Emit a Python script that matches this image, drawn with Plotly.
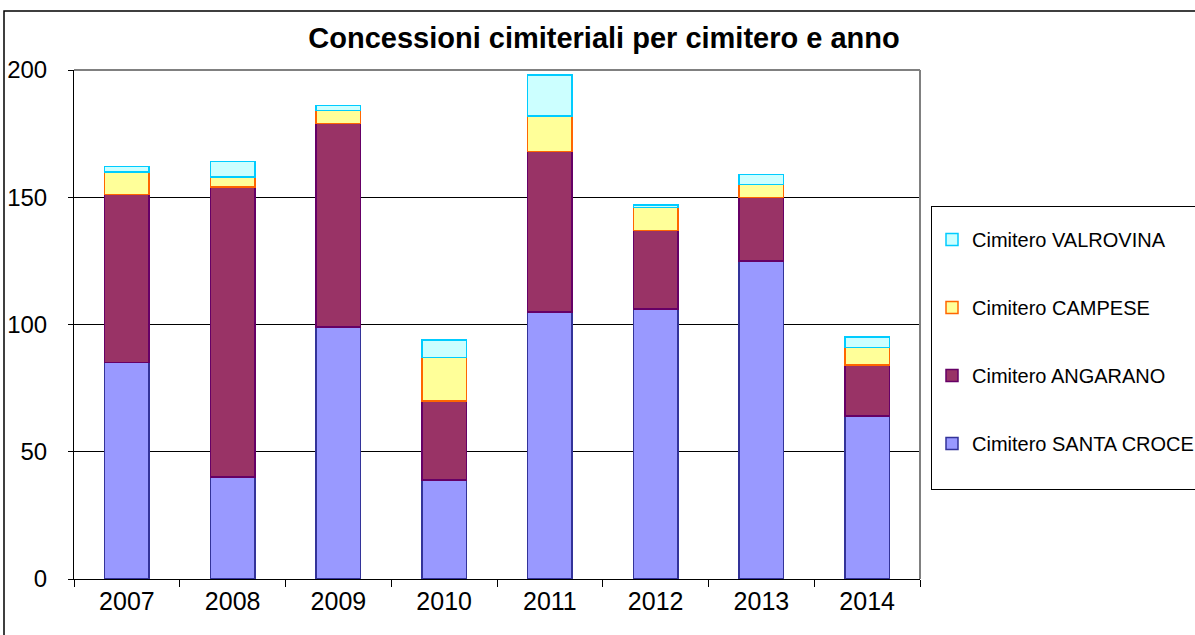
import plotly.graph_objects as go

years = ["2007", "2008", "2009", "2010", "2011", "2012", "2013", "2014"]
santa_croce = [85, 40, 99, 39, 105, 106, 125, 64]
angarano = [66, 114, 80, 31, 63, 31, 25, 20]
campese = [9, 4, 5, 17, 14, 9, 5, 7]
valrovina = [2, 6, 2, 7, 16, 1, 4, 4]

series = [
    ("Cimitero SANTA CROCE<br> ", santa_croce, "#9999FF", "#333399"),
    ("Cimitero ANGARANO", angarano, "#993366", "#660066"),
    ("Cimitero CAMPESE", campese, "#FFFF99", "#FF6600"),
    ("Cimitero VALROVINA", valrovina, "#CCFFFF", "#00CCFF"),
]

FONT = "Liberation Sans, Arial, sans-serif"
W, H = 1195, 635
L, R, T, B = 74, 920, 70, 579  # plot area in pixels


def px(x):
    return (x - L) / (R - L)


def py(y):
    return (B - y) / (B - T)


fig = go.Figure()
for i, (name, vals, fill, line) in enumerate(series):
    fig.add_trace(go.Bar(
        x=years, y=vals, name=name, legendgroup=f"g{i}",
        legendrank=len(series) - i,
        marker=dict(color=fill, line=dict(color=line, width=1.5)),
        width=0.42,
    ))

fig.update_layout(
    width=W, height=H,
    margin=dict(l=L, r=W - R, t=T, b=H - B, autoexpand=False),
    barmode="stack",
    paper_bgcolor="white", plot_bgcolor="white",
    font=dict(family=FONT, color="black", size=24),
    title=dict(
        text="<b>Concessioni cimiteriali per cimitero e anno</b>",
        x=px(604), xref="paper", xanchor="center",
        y=1 - 38 / H, yref="container", yanchor="middle",
        font=dict(family=FONT, size=29, color="black"),
    ),
    showlegend=True,
    legend=dict(
        x=px(931), xanchor="left", y=py(206), yanchor="top",
        traceorder="grouped", tracegroupgap=39, valign="top",
        bordercolor="black", borderwidth=1, bgcolor="white",
        font=dict(family=FONT, size=20, color="black"),
        title=dict(text=" ", font=dict(size=10)),
    ),
    xaxis=dict(
        type="category", range=[-0.5, 7.5], automargin=False,
        showline=True, linecolor="black", linewidth=1,
        ticks="outside", ticklen=7, tickcolor="black", tickson="boundaries",
        showgrid=False, tickfont=dict(size=25),
    ),
    yaxis=dict(
        range=[0, 200], tickvals=[0, 50, 100, 150, 200], automargin=False,
        showline=True, linecolor="black", linewidth=1,
        ticks="outside", ticklen=5, tickcolor="black",
        showgrid=True, gridcolor="black", gridwidth=1,
        tickfont=dict(size=24), ticklabelstandoff=16,
        zeroline=False,
    ),
    shapes=[
        # gray top and right border of the plot area
        dict(type="line", xref="paper", yref="paper", x0=0, x1=1, y0=1, y1=1,
             line=dict(color="#808080", width=2)),
        dict(type="line", xref="paper", yref="paper", x0=1, x1=1, y0=0, y1=1,
             line=dict(color="#808080", width=2)),
        # outer chart border
        dict(type="rect", xref="paper", yref="paper",
             x0=px(4), x1=px(1200), y0=py(645), y1=py(11),
             line=dict(color="black", width=1.5), fillcolor="rgba(0,0,0,0)",
             layer="below"),
    ],
)

fig.write_html("out.html", config={"displayModeBar": False},
               post_script="document.body.style.margin='0';")
